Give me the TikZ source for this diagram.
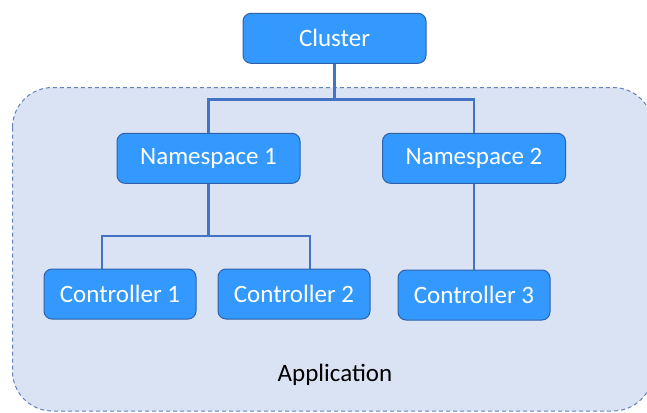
\documentclass[tikz,border=0pt]{standalone}
\usepackage{fontspec}
\setmainfont{Carlito}
\usetikzlibrary{calc}
\definecolor{boxfill}{RGB}{51,153,255}
\definecolor{boxedge}{RGB}{47,98,170}
\definecolor{conncol}{RGB}{68,114,196}
\definecolor{appfill}{RGB}{218,227,243}
\definecolor{appedge}{RGB}{100,130,185}
\tikzset{
  bluebox/.style={draw=boxedge, line width=1pt, fill=boxfill, rounded corners=8pt,
    text=white, font=\fontsize{25}{30}\selectfont, minimum height=50pt, inner sep=0pt},
  nsbox/.style={bluebox, minimum width=183pt},
  ctbox/.style={bluebox, minimum width=152pt},
  conn/.style={draw=conncol, line width=2.2pt},
}
\begin{document}
\begin{tikzpicture}[x=1pt,y=-1pt]
\useasboundingbox (0,0) rectangle (647,412);
\fill[white] (0,0) rectangle (647,412);
\begin{scope}
\clip (0,0) rectangle (647,412);
\draw[fill=appfill, draw=appedge, dashed, line width=1pt, dash pattern=on 4pt off 3pt, rounded corners=40pt]
  (12.5,87.5) rectangle (653,411);
\end{scope}
\node[font=\fontsize{25}{30}\selectfont, text=black] (app) at (335,375) {Application};
\node[nsbox] (cl) at (334.5,38.3) {Cluster};
\node[nsbox] (ns1) at (208.5,158.3) {Namespace 1};
\node[nsbox] (ns2) at (474,158.3) {Namespace 2};
\node[ctbox] (c1) at (120,294) {Controller 1};
\node[ctbox] (c2) at (294,294) {Controller 2};
\node[ctbox] (c3) at (474,295) {Controller 3};
\coordinate (b1) at (334.5,99.5);
\coordinate (b2) at (208.5,236);
\draw[conn] (cl.south) -- (b1);
\draw[conn] (b1) -| (ns1.north);
\draw[conn] (b1) -| (ns2.north);
\draw[conn] (ns1.south) -- (b2);
\draw[conn] (b2) -| ([xshift=-18pt]c1.north);
\draw[conn] (b2) -| ([xshift=16pt]c2.north);
\draw[conn] (ns2.south) -- (c3.north);
\end{tikzpicture}
\end{document}
